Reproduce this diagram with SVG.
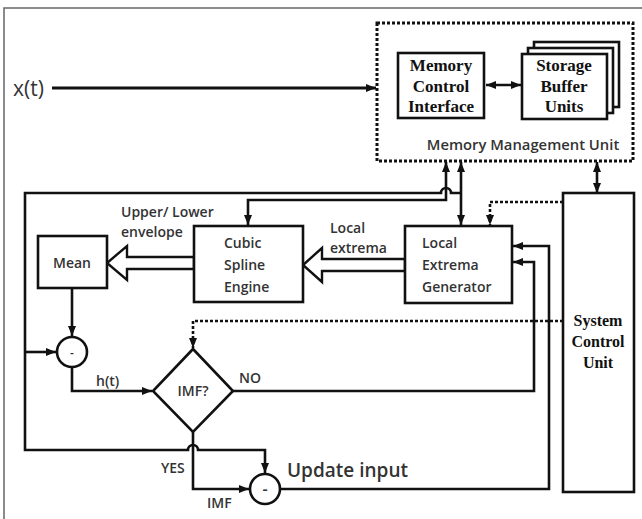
<svg xmlns="http://www.w3.org/2000/svg" width="642" height="519" viewBox="0 0 642 519">
<style>
.box{fill:#fff;stroke:#111;stroke-width:2.6}
.ln{fill:none;stroke:#111;stroke-width:2.6}
.dot{fill:none;stroke:#111;stroke-width:2.6;stroke-dasharray:3 2}
.hollow{fill:#fff;stroke:#111;stroke-width:2.4;stroke-linejoin:miter}
.s{font-family:"Open Sans","Liberation Sans",sans-serif;font-weight:600;fill:#333;font-size:14px}
.sr{font-family:"Liberation Serif","DejaVu Serif",serif;font-weight:bold;fill:#111;font-size:17px;text-anchor:middle}
</style>
<defs>
<marker id="ah" viewBox="0 0 10 8" markerWidth="10" markerHeight="8" refX="10" refY="4" orient="auto-start-reverse" markerUnits="userSpaceOnUse">
<path d="M0,0 L10,4 L0,8 z" fill="#111"/>
</marker>
</defs>
<rect width="642" height="519" fill="#fff"/>
<polyline points="4,519 4,8 642,8" fill="none" stroke="#666" stroke-width="1.5"/>

<g id="connectors">
<path class="ln" d="M52,88 H376" style="stroke-width:3.2" marker-end="url(#ah)"/>
<path class="ln" d="M486,85 H521" marker-start="url(#ah)" marker-end="url(#ah)"/>
<path class="ln" d="M446,162 V200 H248 V225" marker-start="url(#ah)" marker-end="url(#ah)"/>
<path class="ln" d="M461,162 V225" marker-start="url(#ah)" marker-end="url(#ah)"/>
<path class="ln" d="M461,193 H451 A5,5 0 0 0 441,193 H25 V450 H188 A5,5 0 0 1 198,450 H265 V473" marker-end="url(#ah)"/>
<path class="ln" d="M25,352 H56" marker-end="url(#ah)"/>
<path class="ln" d="M72,288 V336" marker-end="url(#ah)"/>
<path class="ln" d="M72,368 V391 H152" marker-end="url(#ah)"/>
<path class="ln" d="M233,391 H534 V262 H513" marker-end="url(#ah)"/>
<path class="ln" d="M280,489 H549 V246 H513" marker-end="url(#ah)"/>
<path class="ln" d="M193,432 V489 H249" marker-end="url(#ah)"/>
<path class="dot" d="M563,321 H193 V348" marker-end="url(#ah)"/>
<path class="dot" d="M563,202 H490 V225" marker-end="url(#ah)"/>
<path class="ln" d="M597,162 V193" marker-start="url(#ah)" marker-end="url(#ah)"/>
<polygon class="hollow" points="405,259 322,259 322,248 303,265 322,282 322,271 405,271"/>
<polygon class="hollow" points="194,257 127,257 127,246 107,263 127,280 127,269 194,269"/>
</g>

<g id="mmu">
<rect x="377" y="23" width="256" height="138" fill="none" stroke="#111" stroke-width="3" stroke-dasharray="3 2"/>
<text class="s" x="523" y="150" text-anchor="middle" style="font-size:14.8px">Memory Management Unit</text>
</g>
<g id="mci">
<rect class="box" x="398" y="53" width="86" height="65"/>
<text class="sr" x="441" y="71">Memory</text>
<text class="sr" x="441" y="92">Control</text>
<text class="sr" x="441" y="112">Interface</text>
</g>
<g id="sbu">
<rect class="box" x="534" y="42" width="85" height="65"/>
<rect class="box" x="528" y="48" width="85" height="65"/>
<rect class="box" x="522" y="54" width="85" height="65"/>
<text class="sr" x="564" y="71">Storage</text>
<text class="sr" x="564" y="92">Buffer</text>
<text class="sr" x="564" y="112">Units</text>
</g>
<g id="xt"><text class="s" x="13" y="96" style="font-size:21px;font-weight:normal">x(t)</text></g>
<g id="scu">
<rect class="box" x="563" y="193" width="71" height="299"/>
<text class="sr" x="598" y="326" style="font-size:16px">System</text>
<text class="sr" x="598" y="347" style="font-size:16px">Control</text>
<text class="sr" x="598" y="368" style="font-size:16px">Unit</text>
</g>
<g id="leg">
<rect class="box" x="405" y="226" width="107" height="77"/>
<text class="s" x="422" y="248">Local</text>
<text class="s" x="422" y="270">Extrema</text>
<text class="s" x="422" y="292">Generator</text>
</g>
<g id="cse">
<rect class="box" x="194" y="226" width="109" height="76"/>
<text class="s" x="224" y="248">Cubic</text>
<text class="s" x="224" y="270">Spline</text>
<text class="s" x="224" y="292">Engine</text>
</g>
<g id="mean">
<rect class="box" x="38" y="236" width="69" height="52"/>
<text class="s" x="72" y="268" text-anchor="middle">Mean</text>
</g>
<g id="sub1">
<circle class="box" cx="72" cy="352" r="15"/>
<text class="s" x="72" y="357" text-anchor="middle" style="font-size:12px">-</text>
</g>
<g id="imf">
<polygon class="box" points="193,349 233,391 193,432 153,391"/>
<text class="s" x="193" y="396" text-anchor="middle">IMF?</text>
</g>
<g id="sub2">
<circle class="box" cx="265" cy="489" r="15"/>
<text class="s" x="265" y="495" text-anchor="middle" style="font-size:16px">-</text>
</g>
<g id="labels">
<text class="s" x="121" y="217">Upper/ Lower</text>
<text class="s" x="121" y="237">envelope</text>
<text class="s" x="330" y="233">Local</text>
<text class="s" x="330" y="253">extrema</text>
<text class="s" x="96" y="386">h(t)</text>
<text class="s" x="239" y="383">NO</text>
<text class="s" x="161" y="473">YES</text>
<text class="s" x="207" y="508">IMF</text>
<text class="s" x="287" y="477" style="font-size:19px">Update input</text>
</g>
</svg>
